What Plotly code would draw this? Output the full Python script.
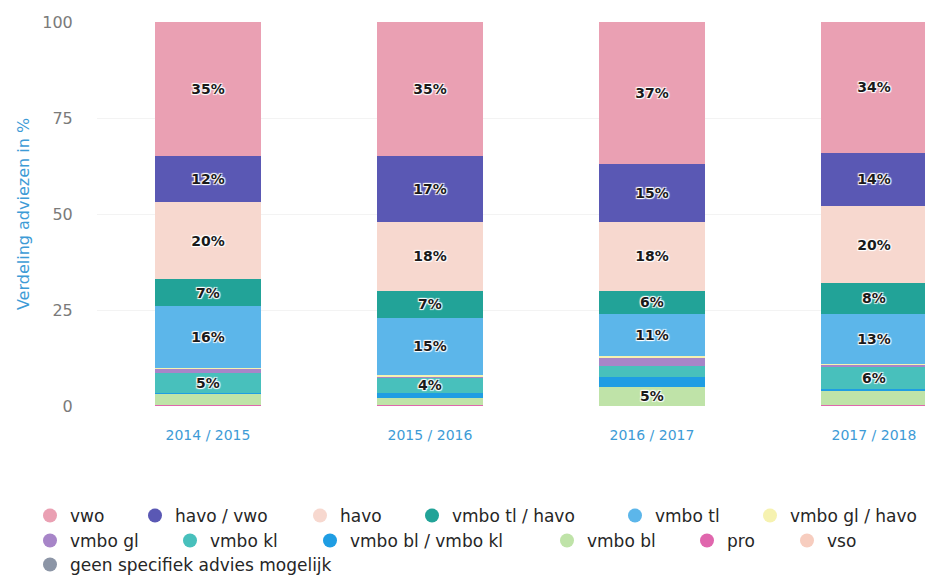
import plotly.graph_objects as go

# ---------------- data ----------------
years = ["2014 / 2015", "2015 / 2016", "2016 / 2017", "2017 / 2018"]

vwo = [35, 35, 37, 34]
havo_vwo = [12, 17, 15, 14]
havo = [20, 18, 18, 20]
vmbo_tl_havo = [7, 7, 6, 8]
vmbo_tl = [16, 15, 11, 13]
vmbo_gl_havo = [0.3, 0.2, 0.3, 0.3]
vmbo_gl = [1.2, 0.3, 2.2, 0.4]
vmbo_kl = [5, 4, 3, 6]
vmbo_bl_vmbo_kl = [0.2, 1.5, 2.5, 0.2]
vmbo_bl = [3.0, 1.7, 5, 3.8]
pro = [0.1, 0.1, 0, 0.1]
vso = [0.1, 0.1, 0, 0.1]
geen = [0.1, 0.1, 0, 0.1]

series_names = ["vwo", "havo / vwo", "havo", "vmbo tl / havo", "vmbo tl",
                "vmbo gl / havo", "vmbo gl", "vmbo kl", "vmbo bl / vmbo kl",
                "vmbo bl", "pro", "vso", "geen specifiek advies mogelijk"]
series_values = [vwo, havo_vwo, havo, vmbo_tl_havo, vmbo_tl, vmbo_gl_havo,
                 vmbo_gl, vmbo_kl, vmbo_bl_vmbo_kl, vmbo_bl, pro, vso, geen]
y_ticks = [0, 25, 50, 75, 100]

# ---------------- styling ----------------
colors = ["#eaa0b3", "#5a58b4", "#f7d8cf", "#22a398", "#5cb6ea",
          "#f6f2b0", "#a785c8", "#48c0bc", "#1f9de3", "#bfe3a8",
          "#e066ad", "#f7cdbf", "#8c95a6"]

# page offset (default body margin of the html page)
OFF = 8

# legend symbol centre positions in page pixels (x, y)
legend_px = [(50, 516), (155, 516), (320, 516), (432, 516), (635, 516), (770, 516),
             (50, 541), (190, 541), (330, 541), (567, 541), (707, 541), (807, 541),
             (50, 565)]

W, H = 933 - OFF, 580 - OFF
ML, MR, MT = 97 - OFF, 0, 22 - OFF
MB = H - (406 - OFF)
PW, PH = W - ML - MR, H - MT - MB
BLUE = "#3d9bd6"
FONT = "DejaVu Sans"

fig = go.Figure()

# stack from bottom: reverse of legend order
for i in reversed(range(len(series_names))):
    vals = series_values[i]
    labels = [f"{v:.0f}%" if v >= 4 else "" for v in vals]
    fig.add_trace(go.Bar(
        x=years, y=vals, name=series_names[i],
        marker=dict(color=colors[i], line=dict(width=0)),
        width=0.475,
        text=labels, textposition="inside", insidetextanchor="middle",
        textangle=0,
        textfont=dict(family=FONT, size=14, color="#1a1a1a", weight="bold",
                      shadow="1px 1px 1px #fff, -1px -1px 1px #fff, 1px -1px 1px #fff, -1px 1px 1px #fff"),
        showlegend=False, hoverinfo="skip",
    ))

# legend entries (circles), one legend per entry for exact placement
layout_legends = {}
for i, name in enumerate(series_names):
    key = "legend" if i == 0 else f"legend{i+1}"
    fig.add_trace(go.Scatter(
        x=[None], y=[None], mode="markers", name=name,
        marker=dict(symbol="circle", size=14, color=colors[i]),
        showlegend=True, legend=key,
    ))
    cx, cy = legend_px[i]
    cx, cy = cx - OFF, cy - OFF
    layout_legends[key] = dict(
        x=(cx - 20 - ML) / PW, y=(H - MB - cy) / PH,
        xanchor="left", yanchor="middle", orientation="h",
        bgcolor="rgba(0,0,0,0)", borderwidth=0,
        font=dict(family=FONT, size=17, color="#262626"),
    )

fig.update_layout(
    width=W, height=H,
    margin=dict(l=ML, r=MR, t=MT, b=MB, pad=0, autoexpand=False),
    paper_bgcolor="white", plot_bgcolor="white",
    barmode="stack",
    uniformtext=dict(minsize=14, mode="show"),
    font=dict(family=FONT),
    xaxis=dict(
        type="category", range=[-0.5, 3.266],
        showgrid=False, zeroline=False, showline=False,
        ticks="outside", ticklen=16, tickcolor="rgba(0,0,0,0)",
        tickfont=dict(family=FONT, size=14, color=BLUE),
        fixedrange=True,
    ),
    yaxis=dict(
        range=[0, 100], tickvals=y_ticks,
        showgrid=True, gridcolor="#f3f3f3", gridwidth=1,
        zeroline=False, showline=False,
        ticks="outside", ticklen=20, tickcolor="rgba(0,0,0,0)",
        tickfont=dict(family=FONT, size=16, color="#7a7a7a"),
        title=dict(text="Verdeling adviezen in %", standoff=8,
                   font=dict(family=FONT, size=16, color=BLUE)),
        fixedrange=True,
    ),
    **layout_legends,
)

fig.write_html("out.html")
